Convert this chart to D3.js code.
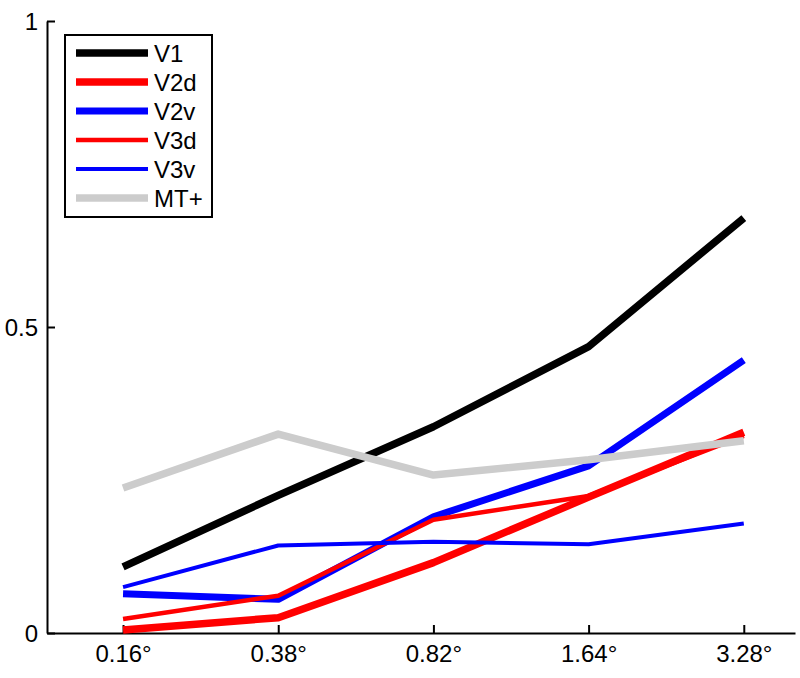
<!DOCTYPE html>
<html>
<head>
<meta charset="utf-8">
<script src="https://cdn.jsdelivr.net/npm/d3@7"></script>
<style>
  body { margin: 0; background: #fff; }
  text { font-family: "Liberation Sans", Arial, sans-serif; }
</style>
</head>
<body>
<div id="chart"></div>
<script>
// categories and tick labels
var categories = ['0.16°', '0.38°', '0.82°', '1.64°', '3.28°'];
var yTicks = [0, 0.5, 1];

// series values
var seriesNames = ['V1', 'V2d', 'V2v', 'V3d', 'V3v', 'MT+'];
var v1   = [0.108, 0.225, 0.337, 0.468, 0.678];
var v2d  = [0.005, 0.025, 0.115, 0.222, 0.328];
var v2v  = [0.064, 0.055, 0.190, 0.273, 0.446];
var v3d  = [0.023, 0.061, 0.185, 0.224, 0.322];
var v3v  = [0.075, 0.143, 0.149, 0.145, 0.179];
var mtp  = [0.237, 0.325, 0.258, 0.283, 0.314];

var seriesValues = [v1, v2d, v2v, v3d, v3v, mtp];
var seriesColors = ['#000000', '#ff0000', '#0000ff', '#ff0000', '#0000ff', '#cccccc'];
var seriesWidths = [7.5, 7.5, 7, 4.5, 4, 7.5];

var width = 800, height = 678;
var plotLeft = 47, plotRight = 795, plotTop = 21, plotBottom = 633;

var svg = d3.select('#chart').append('svg')
    .attr('width', width)
    .attr('height', height);

// categorical positions on a linear index scale (matlab style xlim)
var xScale = d3.scaleLinear()
    .domain([0.51, 5.33])
    .range([plotLeft, plotRight]);

var yScale = d3.scaleLinear()
    .domain([0, 1])
    .range([plotBottom, plotTop]);

var xAxis = d3.axisBottom(xScale)
    .tickValues([1, 2, 3, 4, 5])
    .tickFormat(function (d) { return categories[d - 1]; })
    .tickSizeInner(-8)
    .tickSizeOuter(0)
    .tickPadding(12);

var yAxis = d3.axisLeft(yScale)
    .tickValues(yTicks)
    .tickFormat(d3.format('~g'))
    .tickSizeInner(-8)
    .tickSizeOuter(0)
    .tickPadding(9);

var gx = svg.append('g')
    .attr('transform', 'translate(0,' + plotBottom + ')')
    .call(xAxis);

var gy = svg.append('g')
    .attr('transform', 'translate(' + plotLeft + ',0)')
    .call(yAxis);

[gx, gy].forEach(function (g) {
    g.select('.domain').attr('stroke', '#000').attr('stroke-width', 2);
    g.selectAll('.tick line').attr('stroke', '#000').attr('stroke-width', 2);
    g.selectAll('.tick text')
        .attr('fill', '#000')
        .style('font-size', '24px');
});
gx.selectAll('.tick text').attr('dy', '0.71em');
gy.selectAll('.tick text').attr('dy', '0.36em');

var line = d3.line()
    .x(function (d, i) { return xScale(i + 1); })
    .y(function (d) { return yScale(d); });

svg.selectAll('path.series')
    .data(seriesValues)
    .enter()
    .append('path')
    .attr('class', 'series')
    .attr('d', line)
    .attr('fill', 'none')
    .attr('stroke', function (d, i) { return seriesColors[i]; })
    .attr('stroke-width', function (d, i) { return seriesWidths[i]; })
    .attr('stroke-linejoin', 'round');

// legend
var legend = svg.append('g').attr('class', 'legend');
legend.append('rect')
    .attr('x', 65)
    .attr('y', 35)
    .attr('width', 147)
    .attr('height', 182)
    .attr('fill', '#fff')
    .attr('stroke', '#000')
    .attr('stroke-width', 2);

var rows = legend.selectAll('g.row')
    .data(seriesNames)
    .enter()
    .append('g')
    .attr('class', 'row')
    .attr('transform', function (d, i) { return 'translate(0,' + (53 + i * 29) + ')'; });

rows.append('line')
    .attr('x1', 76)
    .attr('x2', 148)
    .attr('stroke', function (d, i) { return seriesColors[i]; })
    .attr('stroke-width', function (d, i) { return seriesWidths[i]; });

rows.append('text')
    .attr('x', 154)
    .attr('dy', '0.36em')
    .style('font-size', '24px')
    .attr('fill', '#000')
    .text(function (d) { return d; });
</script>
</body>
</html>
